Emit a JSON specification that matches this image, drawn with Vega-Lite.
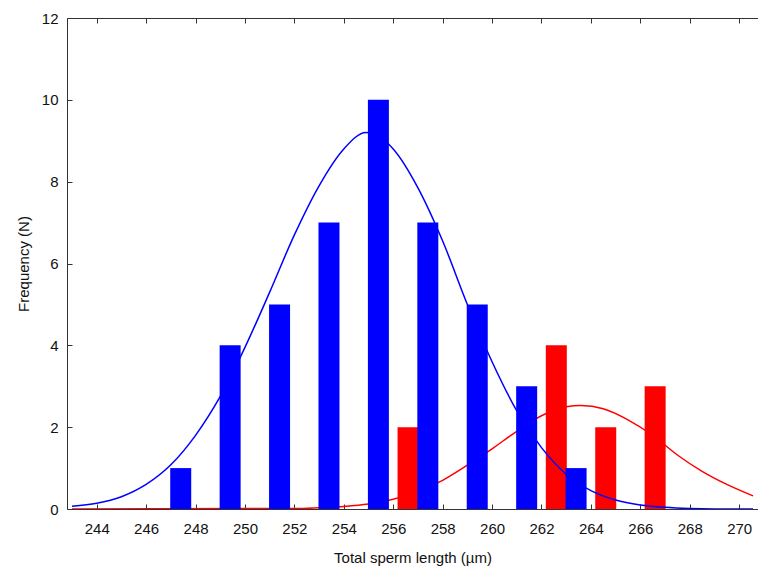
{
  "$schema": "https://vega.github.io/schema/vega-lite/v6.json",
  "autosize": {"type": "none"},
  "padding": {"left": 67, "top": 18, "right": 0, "bottom": 61},
  "width": 691,
  "height": 491,
  "background": "white",
  "config": {
    "view": {"stroke": null},
    "axis": {
      "labelFont": "Liberation Sans",
      "titleFont": "Liberation Sans",
      "labelFontSize": 15,
      "titleFontSize": 15,
      "titleFontWeight": "normal",
      "labelColor": "#111111",
      "titleColor": "#111111",
      "domainColor": "#333333",
      "tickColor": "#333333",
      "grid": false
    },
    "axisY": {
      "orient": "left",
      "tickSize": -5,
      "labelPadding": 14,
      "titlePadding": 10
    }
  },
  "datasets": {
    "bars": [
      {"group": "blue", "length": 247.4, "n": 1},
      {"group": "blue", "length": 249.4, "n": 4},
      {"group": "blue", "length": 251.4, "n": 5},
      {"group": "blue", "length": 253.4, "n": 7},
      {"group": "blue", "length": 255.4, "n": 10},
      {"group": "blue", "length": 257.4, "n": 7},
      {"group": "blue", "length": 259.4, "n": 5},
      {"group": "blue", "length": 261.4, "n": 3},
      {"group": "blue", "length": 263.4, "n": 1},
      {"group": "red", "length": 256.6, "n": 2},
      {"group": "red", "length": 262.6, "n": 4},
      {"group": "red", "length": 264.6, "n": 2},
      {"group": "red", "length": 266.6, "n": 3}
    ],
    "curves": [
      {"group": "blue", "length": 243.0, "n": 0.07},
      {"group": "blue", "length": 244.0, "n": 0.14},
      {"group": "blue", "length": 245.0, "n": 0.3},
      {"group": "blue", "length": 246.0, "n": 0.6},
      {"group": "blue", "length": 247.0, "n": 1.08},
      {"group": "blue", "length": 248.0, "n": 1.8},
      {"group": "blue", "length": 249.0, "n": 2.75},
      {"group": "blue", "length": 250.0, "n": 3.95},
      {"group": "blue", "length": 251.0, "n": 5.3},
      {"group": "blue", "length": 252.0, "n": 6.7},
      {"group": "blue", "length": 253.0, "n": 7.9},
      {"group": "blue", "length": 254.0, "n": 8.8},
      {"group": "blue", "length": 254.9, "n": 9.2},
      {"group": "blue", "length": 256.0, "n": 8.8},
      {"group": "blue", "length": 257.0, "n": 7.85},
      {"group": "blue", "length": 258.0, "n": 6.55},
      {"group": "blue", "length": 259.0, "n": 5.0},
      {"group": "blue", "length": 260.0, "n": 3.6},
      {"group": "blue", "length": 261.0, "n": 2.4},
      {"group": "blue", "length": 262.0, "n": 1.5},
      {"group": "blue", "length": 263.0, "n": 0.85},
      {"group": "blue", "length": 264.0, "n": 0.45},
      {"group": "blue", "length": 265.0, "n": 0.22},
      {"group": "blue", "length": 266.0, "n": 0.1},
      {"group": "blue", "length": 267.0, "n": 0.04},
      {"group": "blue", "length": 268.0, "n": 0.01},
      {"group": "blue", "length": 269.0, "n": 0.0},
      {"group": "blue", "length": 270.56, "n": 0.0},
      {"group": "red", "length": 243.0, "n": 0.0},
      {"group": "red", "length": 250.0, "n": 0.01},
      {"group": "red", "length": 252.0, "n": 0.01},
      {"group": "red", "length": 253.0, "n": 0.03},
      {"group": "red", "length": 254.0, "n": 0.06},
      {"group": "red", "length": 255.0, "n": 0.12},
      {"group": "red", "length": 256.0, "n": 0.24},
      {"group": "red", "length": 257.0, "n": 0.43},
      {"group": "red", "length": 258.0, "n": 0.7},
      {"group": "red", "length": 259.0, "n": 1.07},
      {"group": "red", "length": 260.0, "n": 1.47},
      {"group": "red", "length": 261.0, "n": 1.9},
      {"group": "red", "length": 262.0, "n": 2.28},
      {"group": "red", "length": 263.0, "n": 2.5},
      {"group": "red", "length": 263.6, "n": 2.53},
      {"group": "red", "length": 264.5, "n": 2.45},
      {"group": "red", "length": 265.5, "n": 2.18},
      {"group": "red", "length": 266.5, "n": 1.8},
      {"group": "red", "length": 267.5, "n": 1.32},
      {"group": "red", "length": 268.5, "n": 0.92},
      {"group": "red", "length": 269.5, "n": 0.6},
      {"group": "red", "length": 270.56, "n": 0.32}
    ]
  },
  "layer": [
    {
      "data": {"name": "curves"},
      "transform": [{"filter": "datum.group === 'red'"}],
      "mark": {"type": "line", "color": "#ff0000", "strokeWidth": 1.5, "interpolate": "monotone", "clip": true},
      "encoding": {
        "x": {"field": "length", "type": "quantitative", "scale": {"domain": [243, 270.56], "nice": false, "zero": false},
          "axis": {"orient": "bottom", "values": [244, 246, 248, 250, 252, 254, 256, 258, 260, 262, 264, 266, 268, 270], "tickSize": -5, "labelPadding": 17, "title": "Total sperm length (µm)", "titlePadding": 14}},
        "y": {"field": "n", "type": "quantitative", "scale": {"domain": [0, 12], "nice": false}, "axis": {"title": "Frequency (N)", "values": [0, 2, 4, 6, 8, 10, 12]}}
      }
    },
    {
      "data": {"name": "bars"},
      "transform": [{"filter": "datum.group === 'red'"}],
      "mark": {"type": "bar", "size": 21, "color": "#ff0000"},
      "encoding": {
        "x": {"field": "length", "type": "quantitative", "scale": {"domain": [243, 270.56], "nice": false, "zero": false}, "axis": null},
        "y": {"field": "n", "type": "quantitative", "scale": {"domain": [0, 12], "nice": false}, "axis": {"title": "Frequency (N)", "values": [0, 2, 4, 6, 8, 10, 12]}}
      }
    },
    {
      "data": {"name": "curves"},
      "transform": [{"filter": "datum.group === 'blue'"}],
      "mark": {"type": "line", "color": "#0000ff", "strokeWidth": 1.5, "interpolate": "monotone", "clip": true},
      "encoding": {
        "x": {"field": "length", "type": "quantitative", "scale": {"domain": [243, 270.56], "nice": false, "zero": false}, "axis": null},
        "y": {"field": "n", "type": "quantitative", "scale": {"domain": [0, 12], "nice": false}, "axis": {"title": "Frequency (N)", "values": [0, 2, 4, 6, 8, 10, 12]}}
      }
    },
    {
      "data": {"name": "bars"},
      "transform": [{"filter": "datum.group === 'blue'"}],
      "mark": {"type": "bar", "size": 21, "color": "#0000ff"},
      "encoding": {
        "x": {"field": "length", "type": "quantitative", "scale": {"domain": [243, 270.56], "nice": false, "zero": false},
          "axis": {"orient": "top", "values": [244, 246, 248, 250, 252, 254, 256, 258, 260, 262, 264, 266, 268, 270], "tickSize": -5, "labels": false, "title": null}},
        "y": {"field": "n", "type": "quantitative", "scale": {"domain": [0, 12], "nice": false}, "axis": {"title": "Frequency (N)", "values": [0, 2, 4, 6, 8, 10, 12]}}
      }
    }
  ],
  "resolve": {"axis": {"x": "independent"}}
}
